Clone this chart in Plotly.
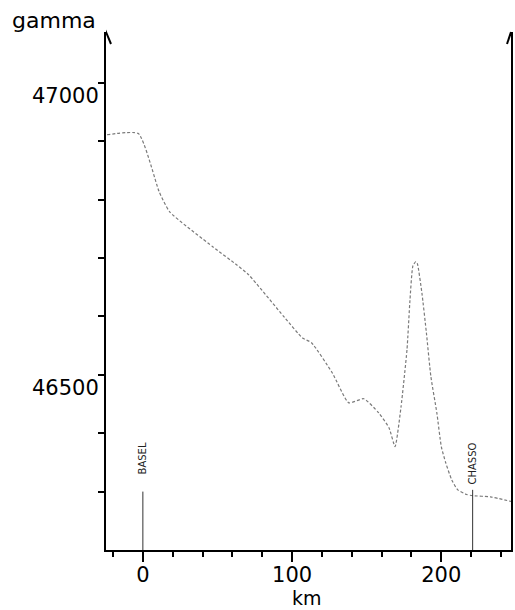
import plotly.graph_objects as go

# magnetic profile
km = [-24, -3, 11, 18, 47, 63, 71, 95, 107, 113, 127, 138, 148, 158, 165, 169,
      173, 177, 179, 181, 183, 184, 187, 190, 193, 197, 200, 203, 207, 211,
      217, 221, 233, 247]
gamma = [46911, 46913, 46813, 46779, 46719, 46688, 46671, 46598, 46563, 46555,
         46503, 46452, 46459, 46435, 46409, 46377, 46445, 46543, 46628, 46687,
         46694, 46690, 46640, 46572, 46497, 46435, 46377, 46349, 46320, 46303,
         46295, 46293, 46291, 46283]

# stations marked along the profile
station_names = ["BASEL", "CHASSO"]
station_km = [0, 221]
station_top = [46300, 46303]

# axis ticks
x_major = [0, 100, 200]
x_minor = [-20, 20, 40, 60, 80, 120, 140, 160, 180, 220, 240]
y_ticks = [46300, 46400, 46500, 46600, 46700, 46800, 46900, 47000]
y_labels = ["", "", "46500", "", "", "", "", "47000"]

FONT = "DejaVu Sans"
X_RANGE = [-24.7, 246.7]
Y_RANGE = [46200, 47087]

fig = go.Figure()

fig.add_trace(go.Scatter(
    x=km, y=gamma, mode="lines",
    line=dict(color="#7a7a7a", width=1.2, dash="3px,2px", shape="spline", smoothing=0.5),
    hoverinfo="skip", showlegend=False
))

# station markers: vertical line up to the curve and a rotated name
for name, sx, top in zip(station_names, station_km, station_top):
    fig.add_trace(go.Scatter(
        x=[sx, sx], y=[Y_RANGE[0], top], mode="lines",
        line=dict(color="#333333", width=1),
        hoverinfo="skip", showlegend=False
    ))
    fig.add_annotation(
        x=sx, y=top, xref="x", yref="y", text=name, showarrow=False,
        textangle=-90, yanchor="bottom", yshift=3 if name == "CHASSO" else 15,
        font=dict(family=FONT, size=10, color="#222222")
    )

# axis titles
fig.add_annotation(x=-0.236, y=1.023, xref="paper", yref="paper", xanchor="left", yanchor="middle",
                   text="gamma", showarrow=False, font=dict(family=FONT, size=22, color="black"))
fig.add_annotation(x=0.496, y=-0.1155, xref="paper", yref="paper", xanchor="center", yanchor="bottom",
                   text="km", showarrow=False, borderpad=0,
                   font=dict(family=FONT, size=19, color="black"))

# arrow heads on both vertical axes
fig.add_shape(type="path", xref="x", yref="paper", xsizemode="pixel", ysizemode="pixel",
              xanchor=X_RANGE[0], yanchor=1, path="M -5,-12 L 0,0 L 5,-12",
              line=dict(color="black", width=2))
fig.add_shape(type="path", xref="x", yref="paper", xsizemode="pixel", ysizemode="pixel",
              xanchor=X_RANGE[1], yanchor=1, path="M -4,-12 L 0,0",
              line=dict(color="black", width=2))

fig.update_xaxes(
    range=X_RANGE, showline=True, linecolor="black", linewidth=2,
    showgrid=False, zeroline=False,
    ticks="outside", tickvals=x_major, ticklen=10, tickwidth=1.5, tickcolor="black",
    tickfont=dict(family=FONT, size=21, color="black"), ticklabelstandoff=-5,
    minor=dict(tickvals=x_minor, ticks="outside", ticklen=5, tickwidth=1.5, tickcolor="black"),
)
fig.update_yaxes(
    range=Y_RANGE, showline=True, mirror=True, linecolor="black", linewidth=2,
    showgrid=False, zeroline=False,
    ticks="outside", tickvals=y_ticks, ticktext=y_labels, ticklen=6, tickwidth=1.5,
    tickcolor="black", ticklabelshift=13, ticklabelstandoff=-5,
    tickfont=dict(family=FONT, size=21, color="black"),
)

fig.update_layout(
    width=515, height=610, autosize=False,
    margin=dict(l=106, r=2, t=32, b=60),
    paper_bgcolor="white", plot_bgcolor="white",
    showlegend=False,
)

# drop the page's default body margin so the figure sits at the window corner
fig.write_html("out.html", config={"displayModeBar": False},
               post_script="document.body.style.margin='0';")
